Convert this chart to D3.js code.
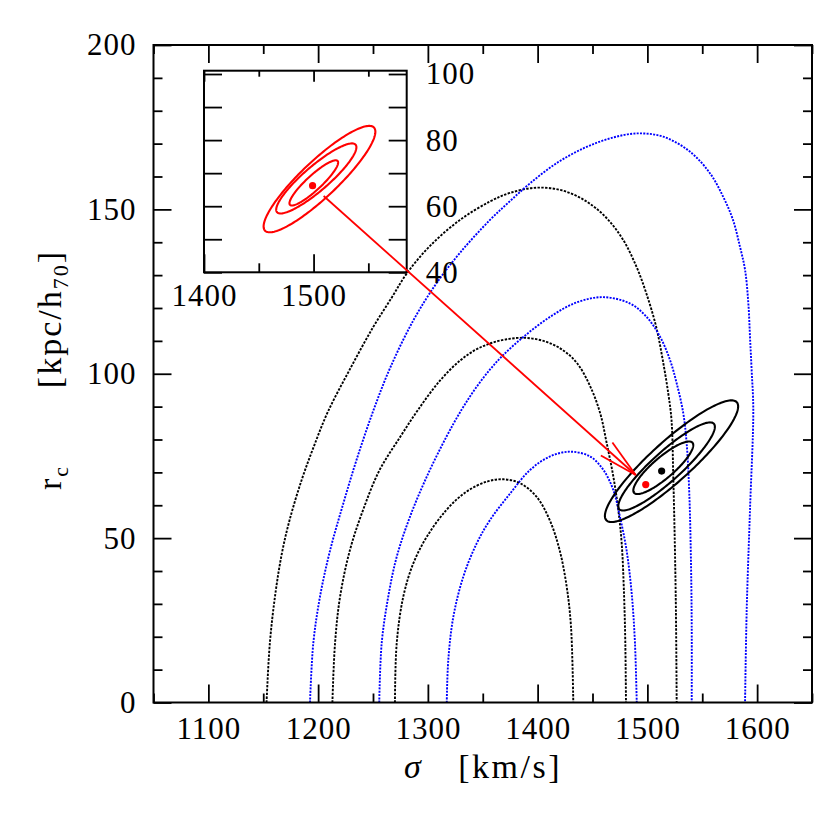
<!DOCTYPE html>
<html>
<head>
<meta charset="utf-8">
<script src="https://cdn.jsdelivr.net/npm/d3@7"></script>
<style>
  html, body { margin: 0; padding: 0; background: #fff; }
  svg { display: block; font-family: "Liberation Serif", "DejaVu Serif", serif; }
</style>
</head>
<body>
<svg id="chart" width="830" height="830"></svg>
<script>
'use strict';

// Axis ticks (main frame)
const sigmaTicks = [1100, 1200, 1300, 1400, 1500, 1600];
const sigmaMinorTicks = [1050, 1150, 1250, 1350, 1450, 1550, 1650];
const radiusTicks = [0, 50, 100, 150, 200];
const radiusMinorTicks = [10, 20, 30, 40, 60, 70, 80, 90, 110, 120, 130, 140, 160, 170, 180, 190];

// Axis ticks (inset)
const insetSigmaTicks = [1400, 1500];
const insetSigmaMinorTicks = [1450, 1550];
const insetRadiusTicks = [40, 60, 80, 100];
const insetRadiusMinorTicks = [50, 70, 90];

// Black dotted arches [sigma, r_c]
const blackArchOuter = [
  [1153, 0], [1156, 18], [1161, 33], [1167, 45.4], [1174, 55.5], [1185, 67.7], [1196, 77.8],
  [1209, 88.5], [1229, 101.4], [1250, 114.1], [1267.3, 123.3], [1281, 130.6], [1302, 138.9],
  [1329.3, 146.8], [1356.6, 152.4], [1374.8, 155], [1399.4, 156.6], [1423, 155.7], [1445, 152.3],
  [1463, 147.3], [1478, 140.7], [1490, 132.6], [1499, 124.5], [1508, 114.3], [1514, 104.2],
  [1519, 94.1], [1522, 85.9], [1523.6, 68.7], [1525, 48.4], [1526, 28.1], [1526.7, 0]
];
const blackArchMiddle = [
  [1213, 0], [1215.4, 18], [1220, 32.2], [1229, 46.4], [1241, 58.6], [1256, 70.7], [1275, 80.9],
  [1291, 89], [1311, 97.9], [1329.3, 104], [1343, 107.2], [1356.6, 109.2], [1371.8, 110.5],
  [1390, 110.9], [1408, 109.7], [1423, 107.2], [1436, 103.2], [1448, 96.1], [1457, 88],
  [1463, 78.8], [1469, 68.7], [1473.5, 58.6], [1476.6, 48.4], [1478.7, 33.2], [1479.9, 18],
  [1480.5, 0]
];
const blackArchInner = [
  [1270, 0], [1271.6, 18], [1277.6, 32.2], [1286.7, 42.3], [1299, 50.4], [1317, 58.6],
  [1335, 64.1], [1354, 67.2], [1369, 67.9], [1384, 66.7], [1399, 62.6], [1411, 55.5],
  [1420, 46.4], [1426.5, 35.2], [1430.4, 23.1], [1432.5, 0]
];

// Blue dotted arches [sigma, r_c]
const blueArchOuter = [
  [1192.6, 0], [1195.6, 18], [1201.7, 32.2], [1211, 46.4], [1223, 60.6], [1235, 73.8],
  [1250, 88.5], [1265.5, 101.7], [1286.7, 116.2], [1308, 127.6], [1329.3, 136.8],
  [1356.6, 146.8], [1374.8, 152.5], [1393, 157.9], [1417, 164], [1442, 168.6], [1466, 171.6],
  [1490, 173.1], [1514.5, 172.1], [1539, 167.5], [1557, 161], [1569, 153.9], [1578, 146.8],
  [1584.4, 138.6], [1589, 131.6], [1592, 121.4], [1593.5, 111.3], [1595, 101.1], [1596.5, 89],
  [1593.5, 58.6], [1590.5, 28.1], [1589, 0]
];
const blueArchMiddle = [
  [1255.7, 0], [1257.9, 18], [1263.9, 32.2], [1271.6, 44.3], [1283.7, 56.5], [1299, 68.7],
  [1317, 80.9], [1330.8, 89.1], [1342.9, 95.3], [1356.6, 101.3], [1368.7, 105.7], [1387, 111.2],
  [1411.3, 117.3], [1435.6, 121.7], [1459.8, 123.3], [1484, 121.4], [1499, 117.4],
  [1511.5, 111.3], [1520.6, 104.2], [1526.7, 97.1], [1532.7, 88], [1535.8, 78.8],
  [1538.2, 63.6], [1539.7, 43.3], [1540.4, 23.1], [1540.4, 0]
];
const blueArchInner = [
  [1317.2, 0], [1318.6, 12.9], [1323.2, 26.1], [1332.3, 38.3], [1344.5, 48.4], [1356.6, 55.5],
  [1375, 63.6], [1393, 70.7], [1411, 74.8], [1429.5, 76.3], [1448, 74.8], [1460, 70.7],
  [1469, 64.6], [1475, 56.5], [1481, 46.4], [1485.7, 33.2], [1488.7, 18], [1490.3, 0]
];

// Confidence contours: centre, half extents and correlation
const blackContours = [
  { cx: 1522, cy: 73.4, a: 60.7, b: 18.5, rho: 0.9 },
  { cx: 1517.5, cy: 71.8, a: 44, b: 13.4, rho: 0.9 },
  { cx: 1514.5, cy: 71.4, a: 27.3, b: 8, rho: 0.86 }
];
const redContours = [
  { cx: 1505.4, cy: 68.2, a: 51, b: 16.1, rho: 0.89 },
  { cx: 1502.5, cy: 68.4, a: 36.6, b: 10.6, rho: 0.89 },
  { cx: 1500.2, cy: 67.05, a: 22.2, b: 6.84, rho: 0.9 }
];

// Best fit points
const blackBestFit = [1513, 70.4];
const redBestFit = [1498.5, 66.3];
const insetRedBestFit = [1499.1, 66.2];

// Arrow from the inset to the main panel
const arrowStart = [1509.2, 63.1]; // inset coordinates
const arrowEnd = [1489.4, 69.2];   // main coordinates


class ContourPlot {
  /**
   * @summary Velocity dispersion / core radius plane
   * @description Draws the main panel, its arches and contours, plus the zoom inset
   **/
  constructor() {
    this._svg = d3.select('#chart');
    this._x = d3.scaleLinear().domain([1050, 1650]).range([153.5, 812]);
    this._y = d3.scaleLinear().domain([0, 200]).range([702.5, 45]);
    this._xi = d3.scaleLinear().domain([1400, 1585]).range([204, 406.7]);
    this._yi = d3.scaleLinear().domain([40, 101]).range([272.3, 70.7]);
    this._format = d3.format('d');

    this._drawArches();
    this._drawContours(this._x, this._y, blackContours, '#000');
    this._drawDot(this._x, this._y, blackBestFit, '#000');
    this._drawDot(this._x, this._y, redBestFit, '#ff0000');
    this._drawFrame();
    this._drawInset();
    this._drawArrow();
    this._drawTitles();
  }

  //  --------------------------------  PRIVATE METHODS  --------------------------------  //

  _drawArches() {
    const line = d3.line()
      .x(d => this._x(d[0]))
      .y(d => this._y(d[1]))
      .curve(d3.curveCatmullRom.alpha(0.5));

    const arches = [
      { data: blackArchOuter, color: '#000', dash: '2.4,1.4' },
      { data: blackArchMiddle, color: '#000', dash: '2.4,1.4' },
      { data: blackArchInner, color: '#000', dash: '2.4,1.4' },
      { data: blueArchOuter, color: '#0000ff', dash: '2,1.3' },
      { data: blueArchMiddle, color: '#0000ff', dash: '2,1.3' },
      { data: blueArchInner, color: '#0000ff', dash: '2,1.3' }
    ];

    this._svg.append('g')
      .selectAll('path')
      .data(arches)
      .enter()
      .append('path')
      .attr('d', d => line(d.data))
      .attr('fill', 'none')
      .attr('stroke', d => d.color)
      .attr('stroke-width', 1.9)
      .attr('stroke-dasharray', d => d.dash);
  }

  _ellipsePoints(c) {
    // Correlated ellipse: sigma = cx + a cos t, r = cy + b (rho cos t + sqrt(1 - rho^2) sin t)
    const s = Math.sqrt(1 - c.rho * c.rho);
    return d3.range(0, 2 * Math.PI, Math.PI / 90).map(t => [
      c.cx + c.a * Math.cos(t),
      c.cy + c.b * (c.rho * Math.cos(t) + s * Math.sin(t))
    ]);
  }

  _drawContours(x, y, contours, color) {
    const line = d3.line()
      .x(d => x(d[0]))
      .y(d => y(d[1]))
      .curve(d3.curveLinearClosed);

    this._svg.append('g')
      .selectAll('path')
      .data(contours)
      .enter()
      .append('path')
      .attr('d', d => line(this._ellipsePoints(d)))
      .attr('fill', 'none')
      .attr('stroke', color)
      .attr('stroke-width', 2.1);
  }

  _drawDot(x, y, point, color) {
    this._svg.append('circle')
      .attr('cx', x(point[0]))
      .attr('cy', y(point[1]))
      .attr('r', 3.6)
      .attr('fill', color);
  }

  _styleAxis(g) {
    g.select('.domain').remove();
    g.selectAll('line').attr('stroke', '#000').attr('stroke-width', 1.8);
    g.selectAll('text')
      .attr('font-family', '"Liberation Serif", serif')
      .attr('font-size', 31)
      .attr('letter-spacing', 1)
      .attr('fill', '#000');
  }

  _addAxis(axis, transform) {
    const g = this._svg.append('g').attr('transform', transform).call(axis);
    this._styleAxis(g);
    return g;
  }

  _drawFrame() {
    const x = this._x;
    const y = this._y;
    const [x0, x1] = x.range();
    const [y0, y1] = y.range();
    const f = this._format;

    this._addAxis(d3.axisBottom(x).tickValues(sigmaTicks).tickSize(-18).tickPadding(14).tickFormat(f), `translate(0,${y0})`);
    this._addAxis(d3.axisBottom(x).tickValues(sigmaMinorTicks).tickSize(-9).tickFormat(''), `translate(0,${y0})`);
    this._addAxis(d3.axisTop(x).tickValues(sigmaTicks).tickSize(-18).tickFormat(''), `translate(0,${y1})`);
    this._addAxis(d3.axisTop(x).tickValues(sigmaMinorTicks).tickSize(-9).tickFormat(''), `translate(0,${y1})`);

    this._addAxis(d3.axisLeft(y).tickValues(radiusTicks).tickSize(-18).tickPadding(17).tickFormat(f), `translate(${x0},0)`);
    this._addAxis(d3.axisLeft(y).tickValues(radiusMinorTicks).tickSize(-9).tickFormat(''), `translate(${x0},0)`);
    this._addAxis(d3.axisRight(y).tickValues(radiusTicks).tickSize(-18).tickFormat(''), `translate(${x1},0)`);
    this._addAxis(d3.axisRight(y).tickValues(radiusMinorTicks).tickSize(-9).tickFormat(''), `translate(${x1},0)`);

    this._svg.append('rect')
      .attr('x', x0)
      .attr('y', y1)
      .attr('width', x1 - x0)
      .attr('height', y0 - y1)
      .attr('fill', 'none')
      .attr('stroke', '#000')
      .attr('stroke-width', 2);
  }

  _drawInset() {
    const xi = this._xi;
    const yi = this._yi;
    const [x0, x1] = xi.range();
    const [y0, y1] = yi.range();
    const f = this._format;

    this._svg.append('rect')
      .attr('x', x0)
      .attr('y', y1)
      .attr('width', x1 - x0)
      .attr('height', y0 - y1)
      .attr('fill', '#fff');

    this._drawContours(xi, yi, redContours, '#ff0000');
    this._drawDot(xi, yi, insetRedBestFit, '#ff0000');

    this._addAxis(d3.axisBottom(xi).tickValues(insetSigmaTicks).tickSize(-18).tickPadding(12).tickFormat(f), `translate(0,${y0})`);
    this._addAxis(d3.axisBottom(xi).tickValues(insetSigmaMinorTicks).tickSize(-9).tickFormat(''), `translate(0,${y0})`);
    this._addAxis(d3.axisTop(xi).tickValues(insetSigmaTicks).tickSize(-11).tickFormat(''), `translate(0,${y1})`);
    this._addAxis(d3.axisTop(xi).tickValues(insetSigmaMinorTicks).tickSize(-6).tickFormat(''), `translate(0,${y1})`);

    this._addAxis(d3.axisLeft(yi).tickValues(insetRadiusTicks.concat(insetRadiusMinorTicks)).tickSize(-18).tickFormat(''), `translate(${x0},0)`);
    const right = this._addAxis(d3.axisRight(yi).tickValues(insetRadiusTicks).tickSize(-18).tickPadding(19).tickFormat(f), `translate(${x1},0)`);
    right.selectAll('text').attr('text-anchor', 'start');
    this._addAxis(d3.axisRight(yi).tickValues(insetRadiusMinorTicks).tickSize(-18).tickFormat(''), `translate(${x1},0)`);

    this._svg.append('rect')
      .attr('x', x0)
      .attr('y', y1)
      .attr('width', x1 - x0)
      .attr('height', y0 - y1)
      .attr('fill', 'none')
      .attr('stroke', '#000')
      .attr('stroke-width', 2);
  }

  _drawArrow() {
    const sx = this._xi(arrowStart[0]);
    const sy = this._yi(arrowStart[1]);
    const ex = this._x(arrowEnd[0]);
    const ey = this._y(arrowEnd[1]);
    const angle = Math.atan2(ey - sy, ex - sx);
    const head = 40;
    const spread = 12.5 * Math.PI / 180;
    const wing = sign => [
      ex - head * Math.cos(angle + sign * spread),
      ey - head * Math.sin(angle + sign * spread)
    ];

    const g = this._svg.append('g')
      .attr('stroke', '#ff0000')
      .attr('stroke-width', 1.8)
      .attr('fill', 'none');

    g.append('line').attr('x1', sx).attr('y1', sy).attr('x2', ex).attr('y2', ey);
    [-1, 1].forEach(sign => {
      const w = wing(sign);
      g.append('line').attr('x1', w[0]).attr('y1', w[1]).attr('x2', ex).attr('y2', ey);
    });
  }

  _drawTitles() {
    const xTitle = this._svg.append('g')
      .attr('font-size', 34)
      .attr('letter-spacing', 2.5)
      .attr('fill', '#000');

    xTitle.append('text')
      .attr('x', 404)
      .attr('y', 778)
      .attr('font-style', 'italic')
      .text('σ');
    xTitle.append('text')
      .attr('x', 562)
      .attr('y', 778)
      .attr('text-anchor', 'end')
      .text('[km/s]');

    const yTitle = this._svg.append('g')
      .attr('font-size', 34)
      .attr('letter-spacing', 2)
      .attr('fill', '#000');

    const rc = yTitle.append('text')
      .attr('transform', 'translate(61,490) rotate(-90)');
    rc.append('tspan').text('r');
    rc.append('tspan').attr('font-size', 22).attr('dy', 7).text('c');

    const units = yTitle.append('text')
      .attr('transform', 'translate(61,250) rotate(-90)')
      .attr('text-anchor', 'end');
    units.append('tspan').text('[kpc/h');
    units.append('tspan').attr('font-size', 22).attr('dy', 7).text('70');
    units.append('tspan').attr('dy', -7).text(']');
  }
}

new ContourPlot();
</script>
</body>
</html>
